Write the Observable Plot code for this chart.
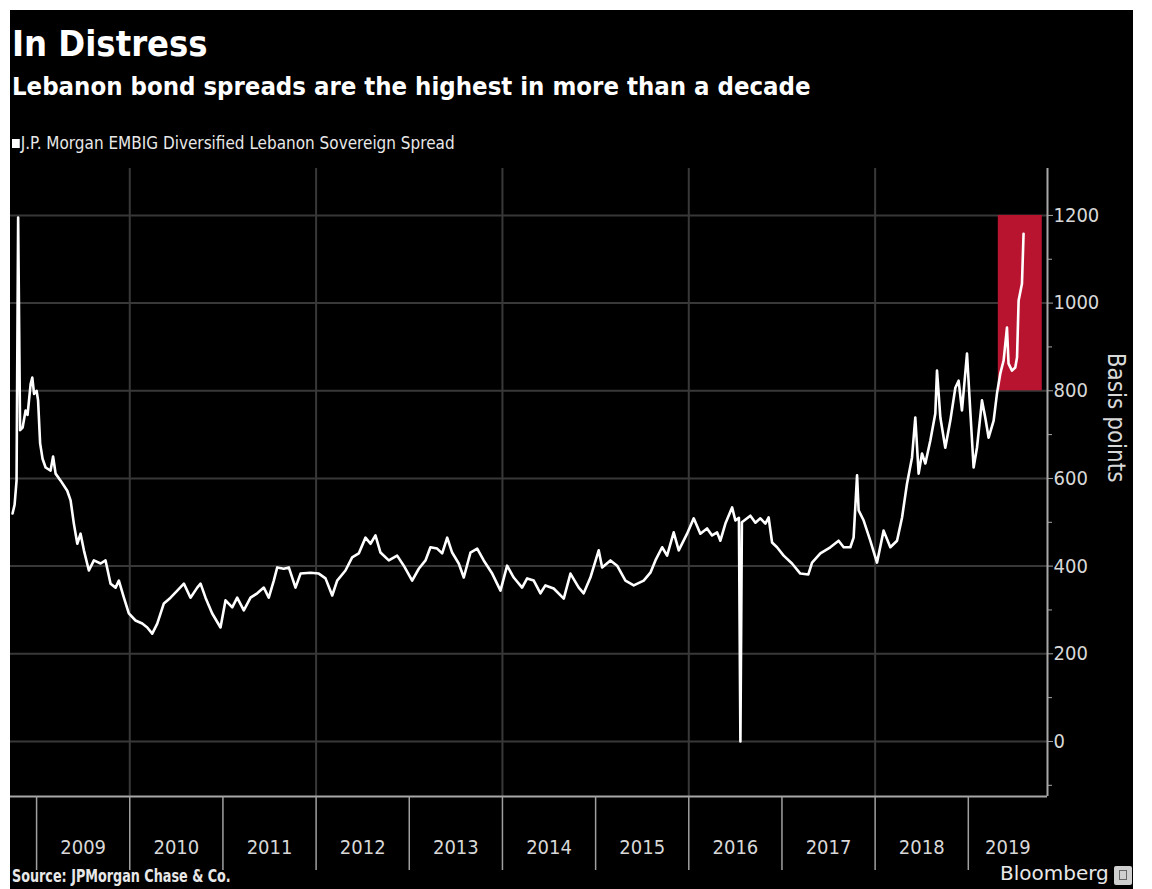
<!DOCTYPE html>
<html>
<head>
<meta charset="utf-8">
<script src="https://cdn.jsdelivr.net/npm/d3@7"></script>
<script src="https://cdn.jsdelivr.net/npm/@observablehq/plot@0.6"></script>
<style>
  html, body { margin: 0; padding: 0; background: #fff; }
  #card { position: absolute; left: 10px; top: 10px; width: 1123px; height: 879px; background: #000; overflow: hidden;
          font-family: "DejaVu Sans Condensed", "DejaVu Sans", sans-serif; color: #fff; }
  #title { position: absolute; left: 2px; top: 16px; font-size: 36px; line-height: 36px; font-weight: bold; white-space: nowrap; }
  #subtitle { position: absolute; left: 2px; top: 63px; font-size: 25.5px; line-height: 26px; font-weight: bold; white-space: nowrap; }
  #legend { position: absolute; left: 2px; top: 123px; font-size: 17.5px; line-height: 20px; color: #e8e8e8; white-space: nowrap;
            transform: scaleX(0.97); transform-origin: 0 0; }
  #legend .sw { display: inline-block; width: 8px; height: 9px; background: #fff; margin-right: 1px; vertical-align: 1px; }
  #chart { position: absolute; left: 0; top: 150px; }
  #source { position: absolute; left: 2px; top: 856px; font-size: 17px; line-height: 20px; font-weight: bold; color: #e8e8e8; white-space: nowrap;
            transform: scaleX(0.835); transform-origin: 0 0; }
  #brand { position: absolute; left: 990px; top: 851px; font-family: "DejaVu Sans", sans-serif; font-size: 20px; line-height: 24px; color: #e8e8e8; white-space: nowrap; }
  #logo { position: absolute; left: 1104px; top: 856px; width: 18px; height: 19px; background: #cfcfcf; border-radius: 2px; }
  #logo::after { content: ""; position: absolute; left: 5px; top: 4px; width: 8px; height: 10px; border: 1.5px solid #666; box-sizing: border-box; }
</style>
</head>
<body>
<div id="card">
  <div id="title">In Distress</div>
  <div id="subtitle">Lebanon bond spreads are the highest in more than a decade</div>
  <div id="legend"><span class="sw"></span>J.P. Morgan EMBIG Diversified Lebanon Sovereign Spread</div>
  <div id="chart"></div>
  <div id="source">Source: JPMorgan Chase &amp; Co.</div>
  <div id="brand">Bloomberg</div>
  <div id="logo"></div>
</div>
<script>
// Time in decimal years
const dates = [
  2008.742, 2008.764, 2008.785, 2008.802, 2008.823, 2008.850, 2008.882, 2008.903, 2008.936, 2008.954,
  2008.973, 2009.000, 2009.016, 2009.038, 2009.064, 2009.097, 2009.150, 2009.177, 2009.204, 2009.258,
  2009.329, 2009.365, 2009.400, 2009.437, 2009.472, 2009.508, 2009.561, 2009.615, 2009.687, 2009.740,
  2009.794, 2009.848, 2009.883, 2009.937, 2009.990, 2010.062, 2010.134, 2010.188, 2010.241, 2010.295,
  2010.366, 2010.438, 2010.510, 2010.581, 2010.652, 2010.724, 2010.760, 2010.813, 2010.885, 2010.974,
  2011.028, 2011.100, 2011.153, 2011.224, 2011.296, 2011.368, 2011.439, 2011.492, 2011.546, 2011.583,
  2011.653, 2011.707, 2011.779, 2011.833, 2011.940, 2012.029, 2012.101, 2012.173, 2012.226, 2012.315,
  2012.387, 2012.458, 2012.530, 2012.584, 2012.637, 2012.691, 2012.780, 2012.870, 2012.941, 2013.031,
  2013.102, 2013.174, 2013.227, 2013.299, 2013.353, 2013.407, 2013.460, 2013.531, 2013.585, 2013.657,
  2013.729, 2013.799, 2013.890, 2013.979, 2014.050, 2014.121, 2014.211, 2014.265, 2014.336, 2014.408,
  2014.461, 2014.550, 2014.658, 2014.730, 2014.819, 2014.872, 2014.944, 2015.033, 2015.070, 2015.159,
  2015.231, 2015.320, 2015.409, 2015.516, 2015.588, 2015.642, 2015.714, 2015.767, 2015.838, 2015.892,
  2015.982, 2016.053, 2016.124, 2016.196, 2016.250, 2016.304, 2016.339, 2016.393, 2016.465, 2016.500,
  2016.538, 2016.554, 2016.570, 2016.661, 2016.715, 2016.768, 2016.822, 2016.857, 2016.894, 2016.947,
  2017.018, 2017.108, 2017.197, 2017.283, 2017.323, 2017.412, 2017.519, 2017.608, 2017.662, 2017.734,
  2017.769, 2017.806, 2017.823, 2017.877, 2017.948, 2018.020, 2018.091, 2018.163, 2018.235, 2018.289,
  2018.342, 2018.396, 2018.431, 2018.467, 2018.503, 2018.539, 2018.592, 2018.646, 2018.664, 2018.700,
  2018.753, 2018.807, 2018.861, 2018.896, 2018.932, 2018.986, 2019.021, 2019.057, 2019.093, 2019.147,
  2019.182, 2019.218, 2019.272, 2019.308, 2019.343, 2019.379, 2019.415, 2019.432, 2019.469, 2019.504,
  2019.523, 2019.540, 2019.576, 2019.593
];
// J.P. Morgan EMBIG Diversified Lebanon Sovereign Spread, basis points
const spread = [
  520, 540, 595, 1195, 710, 716, 755, 745, 815, 830,
  793, 800, 778, 680, 645, 625, 618, 650, 611, 595,
  572, 550, 497, 451, 474, 436, 390, 413, 406, 413,
  360, 351, 367, 328, 292, 276, 269, 260, 246, 269,
  315, 328, 344, 360, 328, 351, 360, 328, 292, 260,
  322, 306, 328, 299, 328, 338, 351, 328, 367, 397,
  394, 397, 351, 383, 385, 383, 372, 333, 367, 390,
  420, 429, 465, 451, 470, 431, 413, 424, 401, 367,
  394, 413, 443, 440, 429, 465, 431, 406, 374, 431,
  440, 413, 383, 344, 401, 374, 351, 372, 367, 338,
  356, 349, 326, 383, 351, 338, 374, 436, 397, 413,
  401, 367, 356, 367, 385, 413, 443, 424, 477, 436,
  474, 509, 474, 486, 470, 477, 458, 497, 534, 504,
  510, 0, 500, 515, 499, 509, 497, 511, 454, 443,
  424, 406, 383, 381, 408, 429, 443, 458, 443, 443,
  465, 607, 527, 504, 458, 408, 481, 443, 458, 511,
  588, 648, 739, 611, 657, 634, 686, 748, 846, 739,
  670, 732, 807, 823, 755, 885, 755, 625, 670, 778,
  739, 693, 732, 794, 839, 869, 944, 862, 846, 853,
  876, 1006, 1044, 1158
];
const yearTicks = [2009, 2010, 2011, 2012, 2013, 2014, 2015, 2016, 2017, 2018, 2019];
const yearGrid = [2010, 2012, 2014, 2016, 2018];
const yMajor = [0, 200, 400, 600, 800, 1000, 1200];
const yMinor = [-100, 100, 300, 500, 700, 900, 1100];
const xDomain = [2008.72, 2019.85];
const yDomain = [-125.5, 1307];
// highlighted window
const highlight = [{x1: 2019.322, x2: 2019.794, y1: 800, y2: 1200}];

const data = dates.map((t, i) => ({t, v: spread[i]}));
const labelPos = yearTicks.map(y => (Math.max(y, xDomain[0]) + Math.min(y + 1, xDomain[1])) / 2);

const chart = Plot.plot({
  width: 1123,
  height: 729,
  marginLeft: 0,
  marginRight: 86,
  marginTop: 8,
  marginBottom: 93,
  style: {background: "transparent", color: "#d8d8d8", fontFamily: "DejaVu Sans Condensed, DejaVu Sans, sans-serif", fontSize: "20px", overflow: "visible"},
  x: {type: "linear", domain: xDomain, label: null},
  y: {domain: yDomain, label: null},
  marks: [
    Plot.gridY(yMajor, {stroke: "#383838", strokeOpacity: 1, strokeWidth: 2}),
    Plot.gridX(yearGrid, {stroke: "#383838", strokeOpacity: 1, strokeWidth: 2}),
    Plot.rect(highlight, {x1: "x1", x2: "x2", y1: "y1", y2: "y2", fill: "#b8142f"}),
    Plot.line(data, {x: "t", y: "v", stroke: "#ffffff", strokeWidth: 2.6, strokeLinejoin: "round"}),
    Plot.ruleY([yDomain[0]], {stroke: "#a8a8a8", strokeWidth: 2}),
    Plot.ruleX([xDomain[1]], {stroke: "#a8a8a8", strokeWidth: 2}),
    Plot.axisX(yearTicks, {tickSize: 74, tickFormat: () => "", stroke: "#a0a0a0", strokeWidth: 1.5}),
    Plot.axisX(labelPos, {tickSize: 0, tickPadding: 43, tickFormat: d => String(Math.floor(d)), fill: "#d8d8d8", fontSize: 20}),
    Plot.axisY(yMajor, {anchor: "right", tickSize: 5, tickPadding: 1, tickFormat: d => String(d), stroke: "#a8a8a8", fill: "#d8d8d8", fontSize: 20}),
    Plot.axisY(yMinor, {anchor: "right", tickSize: 4, tickFormat: () => "", stroke: "#a8a8a8"}),
    Plot.text(["Basis points"], {text: d => d, frameAnchor: "right", dx: 68, rotate: 90, fontSize: 24, fill: "#d8d8d8"})
  ]
});
document.getElementById("chart").appendChild(chart);
</script>
</body>
</html>
